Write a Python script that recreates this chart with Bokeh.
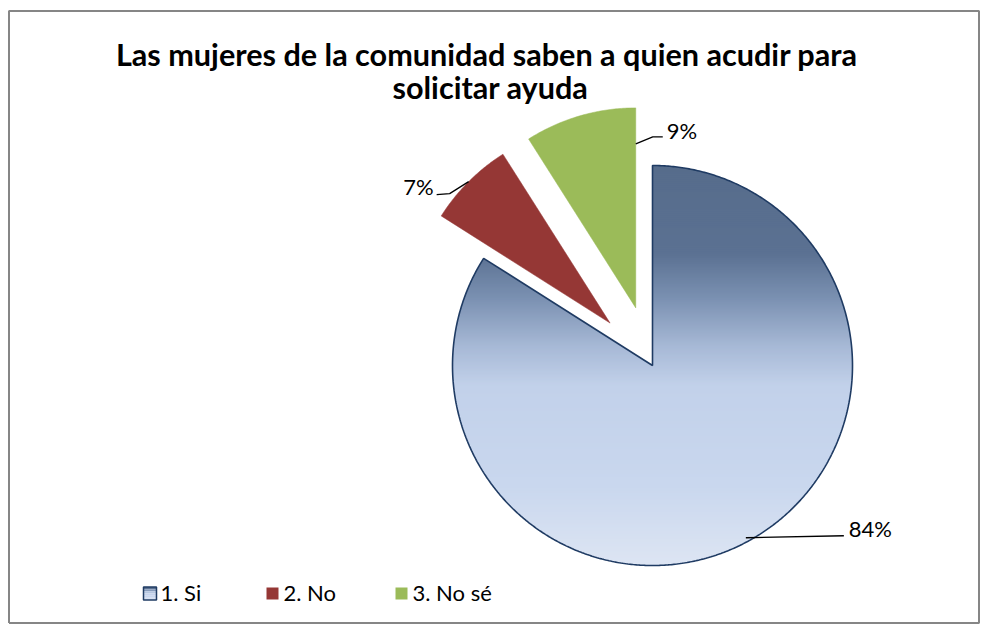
import numpy as np
from bokeh.plotting import figure
from bokeh.models import Range1d
from bokeh.embed import file_html
from bokeh.resources import INLINE
from bokeh.core.properties import value

# ---------------- data ----------------
title_lines = ["Las  mujeres de la comunidad saben a quien acudir para", "solicitar ayuda"]
categories = ["1. Si", "2.  No", "3. No sé"]
values = [84, 7, 9]
pct_labels = ["84%", "7%", "9%"]

# ---------------- style ----------------
FONT = "Lato"
W, H = 980, 624
CX, CY, R = 652, 365, 200
EXPLODE = [0, 60, 60]
SLICE_COLORS = [None, "#953735", "#9BBB59"]
OUTLINE = "#1F3B63"
GRAD_STOPS = [(0.00, "#566C8B"), (0.22, "#5B7192"), (0.33, "#7A90B1"),
              (0.45, "#A6B8D5"), (0.55, "#C2D1EA"), (0.80, "#C9D7EE"), (1.00, "#DDE5F3")]


def hex2rgb(h):
    h = h.lstrip("#")
    return np.array([int(h[i:i + 2], 16) for i in (0, 2, 4)], dtype=float)


def grad_color(t):
    t = min(max(t, 0.0), 1.0)
    for (t0, c0), (t1, c1) in zip(GRAD_STOPS[:-1], GRAD_STOPS[1:]):
        if t <= t1:
            f = 0 if t1 == t0 else (t - t0) / (t1 - t0)
            c = hex2rgb(c0) * (1 - f) + hex2rgb(c1) * f
            return "#%02x%02x%02x" % tuple(int(round(v)) for v in c)
    return GRAD_STOPS[-1][1]


def pt(cx, cy, r, ang):
    a = np.radians(ang)
    return cx + r * np.sin(a), cy - r * np.cos(a)


def wedge_poly(cx, cy, r, a0, a1):
    angs = np.linspace(a0, a1, max(int(abs(a1 - a0) * 2), 4))
    xs = [cx] + [pt(cx, cy, r, a)[0] for a in angs]
    ys = [cy] + [pt(cx, cy, r, a)[1] for a in angs]
    return xs, ys


def clip_half(poly, yv, keep_above):
    out = []
    n = len(poly)
    for i in range(n):
        p1, p2 = poly[i], poly[(i + 1) % n]
        in1 = (p1[1] >= yv) if keep_above else (p1[1] <= yv)
        in2 = (p2[1] >= yv) if keep_above else (p2[1] <= yv)
        if in1:
            out.append(p1)
        if in1 != in2:
            t = (yv - p1[1]) / (p2[1] - p1[1])
            out.append((p1[0] + t * (p2[0] - p1[0]), yv))
    return out


p = figure(width=W, height=H, x_range=Range1d(0, W), y_range=Range1d(H, 0),
           output_backend="svg", toolbar_location=None, min_border=0)
p.axis.visible = False
p.grid.visible = False
p.outline_line_color = None
p.background_fill_color = "white"
p.border_fill_color = "white"

# chart frame
p.line([8.5, 8.5, 978.5, 978.5, 8.5], [622.5, 10.5, 10.5, 622.5, 622.5], line_color="#868686", line_width=2)

fr = np.array(values, dtype=float) / sum(values)
ends = np.cumsum(fr) * 360
starts = ends - fr * 360
mids = (starts + ends) / 2

centers = []
for i in range(len(values)):
    ex, ey = pt(CX, CY, EXPLODE[i], mids[i]) if EXPLODE[i] else (CX, CY)
    centers.append((ex, ey))

# slices
for i in range(len(values)):
    ex, ey = centers[i]
    xs, ys = wedge_poly(ex, ey, R, starts[i], ends[i])
    if SLICE_COLORS[i] is None:
        poly = list(zip(xs, ys))
        top, bot = min(ys), max(ys)
        step = 2.0
        bx, by, bc = [], [], []
        y0 = top
        while y0 < bot:
            y1 = min(y0 + step, bot)
            c = clip_half(clip_half(poly, y0, True), min(y1 + 1.0, bot), False)
            if len(c) >= 3:
                bx.append([q[0] for q in c])
                by.append([q[1] for q in c])
                bc.append(grad_color(((y0 + y1) / 2 - (ey - R)) / (2 * R)))
            y0 = y1
        p.patches(bx, by, fill_color=bc, line_color=None)
        p.patch(xs, ys, fill_color=None, line_color=OUTLINE, line_width=1.6)
    else:
        p.patch(xs, ys, fill_color=SLICE_COLORS[i], line_color=SLICE_COLORS[i], line_width=0.5)

# labels with leader lines
LBL_SIZE = "22px"
# 84%
ex, ey = centers[0]
x0, y0 = pt(ex, ey, R, mids[0])
p.line([x0 - 3, x0 + 95], [y0 - 3, y0 - 5], line_color="black", line_width=1.3)
p.text([x0 + 100], [y0 - 12], text=[pct_labels[0]], text_font=value(FONT), text_font_size=LBL_SIZE,
       text_baseline="middle", text_align="left", text_color="#000000")
# 7%
ex, ey = centers[1]
x0, y0 = pt(ex, ey, R, mids[1])
p.line([x0, x0 - 19, x0 - 32], [y0, y0 + 12, y0 + 13], line_color="black", line_width=1.3)
p.text([x0 - 35], [y0 + 5], text=[pct_labels[1]], text_font=value(FONT), text_font_size=LBL_SIZE,
       text_baseline="middle", text_align="right", text_color="#000000")
# 9%
ex, ey = centers[2]
x0, y0 = pt(ex, ey, R * 0.82, ends[2])
p.line([x0, x0 + 17, x0 + 27], [y0, y0 - 7, y0 - 7], line_color="black", line_width=1.3)
p.text([x0 + 31], [y0 - 13], text=[pct_labels[2]], text_font=value(FONT), text_font_size=LBL_SIZE,
       text_baseline="middle", text_align="left", text_color="#000000")

# title
p.text([490] * 2, [54, 87], text=title_lines, text_font=value(FONT), text_font_size="30.6px",
       text_font_style="bold", text_baseline="middle", text_align="center", text_color="#000000")

# legend
LEG_X = [143, 266, 395]
LEG_Y = 593
BOX = 13
nb = 6
for k in range(nb):
    c = grad_color(0.15 + 0.85 * (k + 0.5) / nb)
    p.quad(left=[LEG_X[0]], right=[LEG_X[0] + BOX], top=[LEG_Y - BOX / 2 + k * BOX / nb],
           bottom=[LEG_Y - BOX / 2 + (k + 1) * BOX / nb], fill_color=c, line_color=None)
p.quad(left=[LEG_X[0]], right=[LEG_X[0] + BOX], top=[LEG_Y - BOX / 2], bottom=[LEG_Y + BOX / 2],
       fill_color=None, line_color=OUTLINE, line_width=1.5)
for i in (1, 2):
    p.quad(left=[LEG_X[i]], right=[LEG_X[i] + BOX - 1], top=[LEG_Y - BOX / 2 + 0.5], bottom=[LEG_Y + BOX / 2 - 0.5],
           fill_color=SLICE_COLORS[i], line_color=None)
p.text([x + BOX + 4 for x in LEG_X], [LEG_Y - 1] * 3, text=categories, text_font=value(FONT),
       text_font_size="22px", text_baseline="middle", text_align="left", text_color="#000000")

open("out.html", "w").write(file_html(p, INLINE))
